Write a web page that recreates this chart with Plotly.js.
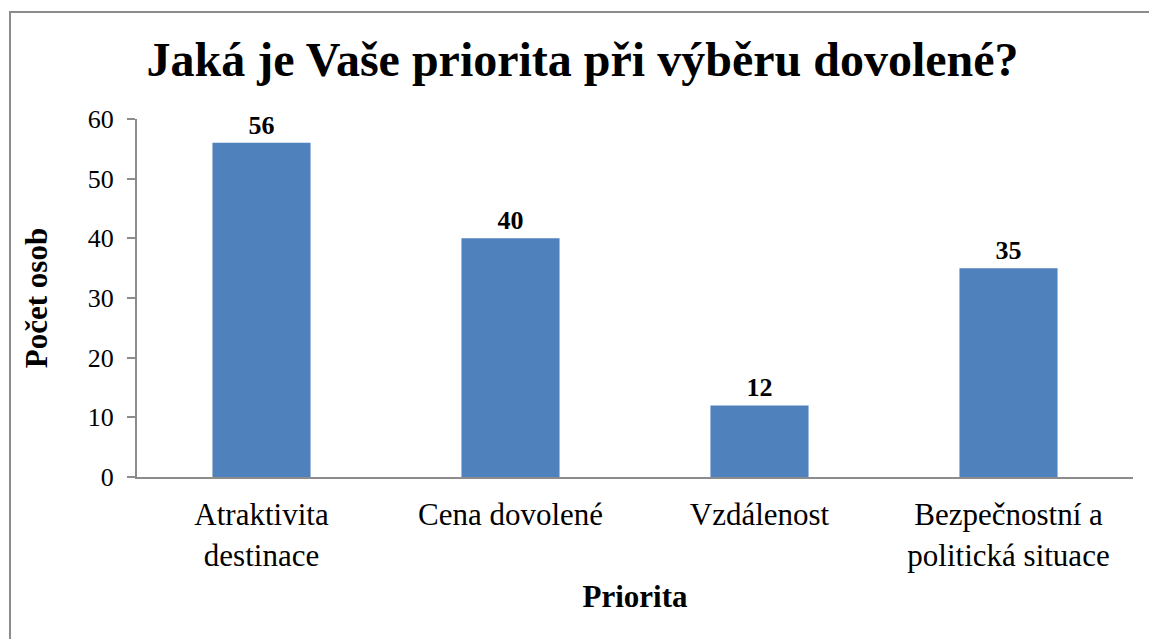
<!DOCTYPE html>
<html><head><meta charset="utf-8">
<script src="https://cdn.plot.ly/plotly-3.0.1.min.js"></script>
<style>html,body{margin:0;padding:0;background:#fff;overflow:hidden}
#frame{position:absolute;left:9px;top:11px;width:3000px;height:3000px;border-left:2px solid #8c8c8c;border-top:2px solid #8c8c8c;pointer-events:none}
</style></head><body>
<div id="chart" style="width:1149px;height:639px;position:absolute;left:0;top:0"></div>
<div id="frame"></div>
<script>
var categories = ["Atraktivita<br>destinace", "Cena dovolené", "Vzdálenost", "Bezpečnostní a<br>politická situace"];
var values = [56, 40, 12, 35];
var yTicks = [0, 10, 20, 30, 40, 50, 60];

var font = "Liberation Serif";
var trace = {
  type: "bar",
  x: categories,
  y: values,
  marker: {color: "#4F81BD"},
  text: values.map(function(v){return "<b>" + v + "</b>";}),
  textposition: "outside",
  textfont: {family: font, size: 26, color: "#000"},
  cliponaxis: false,
  hoverinfo: "none"
};
var layout = {
  width: 1149, height: 639,
  margin: {l: 137, r: 16, t: 119, b: 162},
  paper_bgcolor: "#fff", plot_bgcolor: "#fff",
  bargap: 0.606,
  showlegend: false,
  font: {family: font, color: "#000"},
  title: {text: "<b>Jaká je Vaše priorita při výběru dovolené?</b>", font: {family: font, size: 48, color: "#000"},
          x: 0.507, xref: "container", xanchor: "center", y: 1 - 59/639, yref: "container", yanchor: "middle"},
  xaxis: {
    showline: true, linecolor: "#8c8c8c", linewidth: 2,
    ticks: "", tickfont: {family: font, size: 31, color: "#000"},
    ticklabelstandoff: 9,
    title: {text: "<b>Priorita</b>", font: {family: font, size: 31, color: "#000"}, standoff: 14},
    fixedrange: true
  },
  yaxis: {
    range: [0, 60], tickvals: yTicks, ticktext: yTicks.map(String),
    showgrid: false, zeroline: false,
    showline: true, linecolor: "#8c8c8c", linewidth: 2,
    ticks: "outside", ticklen: 8, tickwidth: 2, tickcolor: "#8c8c8c",
    tickfont: {family: font, size: 26, color: "#000"},
    ticklabelstandoff: 8,
    title: {text: "<b>Počet osob</b>", font: {family: font, size: 31, color: "#000"}, standoff: 31},
    fixedrange: true
  }
};
Plotly.newPlot("chart", [trace], layout, {displayModeBar: false, staticPlot: true});
</script>
</body></html>
